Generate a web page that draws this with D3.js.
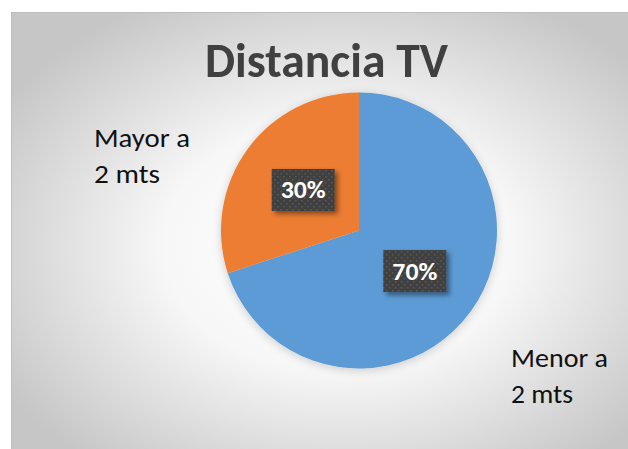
<!DOCTYPE html>
<html>
<head>
<meta charset="utf-8">
<script src="https://cdn.jsdelivr.net/npm/d3@7"></script>
<style>
  body { margin: 0; background: #fff; }
  svg { display: block; }
</style>
</head>
<body>
<div id="chart"></div>
<script>
// data
const categories = ["Menor a 2 mts", "Mayor a 2 mts"]
const values = [70, 30]
const labelLines = [["Menor a", "2 mts"], ["Mayor a", "2 mts"]]
const colors = ["#5b9bd5", "#ed7d31"]
const title = "Distancia TV"

const width = 628, height = 449
const cx = 359, cy = 230.5, radius = 138
const font = "Carlito, 'Open Sans', sans-serif"

const svg = d3.select("#chart").append("svg")
    .attr("width", width)
    .attr("height", height)

const defs = svg.append("defs")

// background glow
const grad = defs.append("radialGradient")
    .attr("id", "bg")
    .attr("cx", "52%").attr("cy", "52%").attr("r", "62%")
grad.append("stop").attr("offset", "0%").attr("stop-color", "#ffffff")
grad.append("stop").attr("offset", "45%").attr("stop-color", "#f7f7f7")
grad.append("stop").attr("offset", "100%").attr("stop-color", "#c6c6c6")

// dotted fill for the data labels
const pat = defs.append("pattern")
    .attr("id", "dots")
    .attr("width", 6).attr("height", 6)
    .attr("patternUnits", "userSpaceOnUse")
pat.append("rect").attr("width", 6).attr("height", 6).attr("fill", "#404040")
pat.append("rect").attr("x", 1).attr("y", 1).attr("width", 1.5).attr("height", 1.5).attr("fill", "#5c5c5c")
pat.append("rect").attr("x", 4).attr("y", 4).attr("width", 1.5).attr("height", 1.5).attr("fill", "#5c5c5c")

const boxShadow = defs.append("filter").attr("id", "boxShadow")
    .attr("x", "-30%").attr("y", "-30%").attr("width", "160%").attr("height", "160%")
boxShadow.append("feDropShadow")
    .attr("dx", 3).attr("dy", 3).attr("stdDeviation", 2.5)
    .attr("flood-color", "#000").attr("flood-opacity", 0.45)

const pieShadow = defs.append("filter").attr("id", "pieShadow")
    .attr("x", "-20%").attr("y", "-20%").attr("width", "140%").attr("height", "140%")
pieShadow.append("feDropShadow")
    .attr("dx", 0).attr("dy", 2).attr("stdDeviation", 4)
    .attr("flood-color", "#000").attr("flood-opacity", 0.18)

// chart area
svg.append("rect")
    .attr("x", 11.5).attr("y", 12.5)
    .attr("width", width).attr("height", height)
    .attr("fill", "url(#bg)")
    .attr("stroke", "#bdbdbd")

// title
svg.append("text")
    .attr("x", 326.5).attr("y", 77)
    .attr("text-anchor", "middle")
    .attr("font-family", font)
    .attr("font-weight", "bold")
    .attr("font-size", 49)
    .attr("fill", "#404040")
    .attr("textLength", 243)
    .attr("lengthAdjust", "spacingAndGlyphs")
    .text(title)

const data = categories.map((c, i) => ({ name: c, value: values[i], lines: labelLines[i], color: colors[i] }))

const pie = d3.pie().sort(null).value(d => d.value)
const arc = d3.arc().innerRadius(0).outerRadius(radius)
const arcs = pie(data)

const g = svg.append("g").attr("transform", `translate(${cx},${cy})`)

g.append("g")
    .attr("filter", "url(#pieShadow)")
  .selectAll("path")
  .data(arcs)
  .join("path")
    .attr("d", arc)
    .attr("fill", d => d.data.color)

// percentage labels at the slice centroid
const total = d3.sum(values)
const lbl = g.selectAll(".pct")
  .data(arcs)
  .join("g")
    .attr("class", "pct")
    .attr("transform", d => `translate(${arc.centroid(d)})`)

lbl.append("rect")
    .attr("x", -31.5).attr("y", -21)
    .attr("width", 63).attr("height", 42)
    .attr("fill", "url(#dots)")
    .attr("filter", "url(#boxShadow)")

lbl.append("text")
    .attr("text-anchor", "middle")
    .attr("y", 8.5)
    .attr("font-family", font)
    .attr("font-weight", "bold")
    .attr("font-size", 24)
    .attr("fill", "#fff")
    .attr("textLength", 45)
    .attr("lengthAdjust", "spacingAndGlyphs")
    .text(d => d3.format(".0%")(d.data.value / total))

// category labels outside the pie
const labelPos = [[511, 367], [94, 147]]
const lineWidths = [[97, 62], [96, 66]]
data.forEach((d, i) => {
  const t = svg.append("text")
      .attr("font-family", font)
      .attr("font-size", 27)
      .attr("fill", "#111")
  d.lines.forEach((line, j) => {
    t.append("tspan")
        .attr("x", labelPos[i][0])
        .attr("y", labelPos[i][1] + j * 36)
        .attr("textLength", lineWidths[i][j])
        .attr("lengthAdjust", "spacingAndGlyphs")
        .text(line)
  })
})
</script>
</body>
</html>
